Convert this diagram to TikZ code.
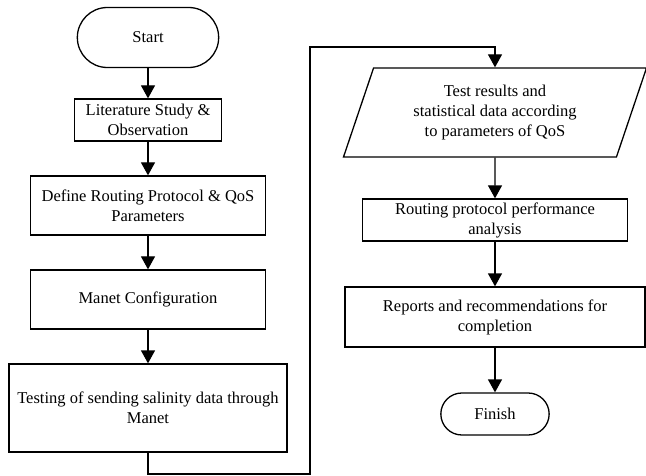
\documentclass[tikz,border=0pt]{standalone}
\usepackage{fontspec}
\setmainfont{Liberation Serif}
\usetikzlibrary{arrows.meta,shapes.misc,shapes.geometric}

\begin{document}
\begin{tikzpicture}
         [x=1pt,y=-1pt,line width=1.3pt,
          every node/.style={draw,align=center,font=\fontsize{16.5}{20}\selectfont},
          terminal/.style={rounded rectangle},
          process/.style={rectangle},
          io/.style={trapezium,trapezium left angle=64,trapezium right angle=116,trapezium stretches body},
          flow/.style={-{Triangle[length=13pt,width=14pt]}}]
         \useasboundingbox (0,0) rectangle (646,476);
         \node[terminal,minimum width=148,minimum height=60] (start) at (148,37.5) {Start};
         \node[process,minimum width=147,minimum height=42,inner sep=1pt] (lit) at (148,120) {Literature Study \&\\ Observation};
         \node[process,minimum width=235,minimum height=59] (def) at (148,205.5) {Define Routing Protocol \& QoS\\ Parameters};
         \node[process,minimum width=235,minimum height=59] (manet) at (148,299.5) {Manet Configuration};
         \node[process,minimum width=278,minimum height=88] (test) at (148,408) {Testing of sending salinity data through\\ Manet};
         \node[io,minimum width=303,minimum height=89] (result) at (495,112.5) {Test results and\\ statistical data according\\ to parameters of QoS};
         \node[process,minimum width=265,minimum height=42,inner sep=1pt] (analysis) at (495,220) {Routing protocol performance\\ analysis};
         \node[process,minimum width=300,minimum height=60] (report) at (495,317) {Reports and recommendations for\\ completion};
         \node[terminal,minimum width=115,minimum height=42] (finish) at (495,414) {Finish};
         \coordinate (loopA) at (310,474);
         \coordinate (loopB) at (310,47);
         \foreach \from/\to in {start/lit, lit/def, def/manet, manet/test, result/analysis, analysis/report, report/finish}
            \draw[flow] (\from.south) -- (\to.north);
         \draw[flow] (test.south) |- (loopA) -- (loopB) -| (result.north);
       \end{tikzpicture}
\end{document}
